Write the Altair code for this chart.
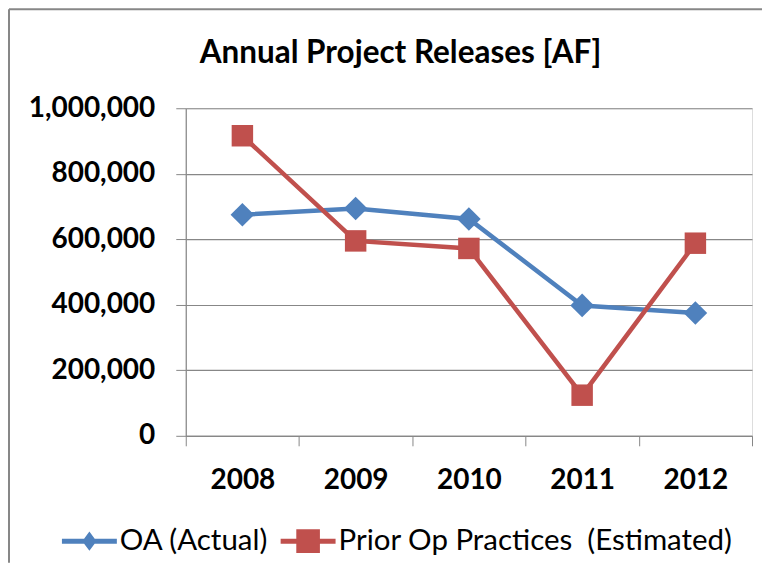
import altair as alt
import pandas as pd

years = ["2008", "2009", "2010", "2011", "2012"]
series_names = ["OA (Actual)", "Prior Op Practices\u00a0 (Estimated)"]
oa_actual = [675000, 694000, 662000, 398000, 375000]
prior_op = [916000, 595000, 572000, 124000, 588000]
y_ticks = [0, 200000, 400000, 600000, 800000, 1000000]
colors = ["#4F81BD", "#C0504D"]

rows = []
for name, vals in zip(series_names, [oa_actual, prior_op]):
    for yr, v in zip(years, vals):
        rows.append({"year": yr, "series": name, "value": v})
df = pd.DataFrame(rows)

W, H = 567, 328
FONT = "Lato"
GRAY = "#878787"

color_scale = alt.Scale(domain=series_names, range=colors)

x_enc = alt.X(
    "year:N",
    sort=years,
    scale=alt.Scale(type="band", paddingInner=0, paddingOuter=0),
    axis=alt.Axis(
        title=None, labelAngle=0, tickBand="extent", grid=False,
        domainColor=GRAY, tickColor=GRAY, tickSize=10, domainWidth=1.2,
        labelFont=FONT, labelFontSize=28, labelFontWeight="bold",
        labelColor="black", labelPadding=21,
    ),
)
y_enc = alt.Y(
    "value:Q",
    scale=alt.Scale(domain=[0, 1000000]),
    axis=alt.Axis(
        title=None, values=y_ticks, format=",.0f", grid=True,
        gridColor=GRAY, gridWidth=1.2, domainColor=GRAY, domainWidth=1.2,
        tickColor=GRAY, tickSize=10, labelFont=FONT, labelFontSize=28,
        labelFontWeight="bold", labelColor="black", labelPadding=21,
    ),
)

# legend symbols: line stub + marker (filled paths, same winding)
diamond_line = "M-1,-0.09H1V0.09H-1ZM0,-0.35L0.26,0L0,0.35L-0.26,0Z"
square_line = "M-1,-0.09H1V0.09H-1ZM-0.43,-0.43H0.43V0.43H-0.43Z"

legend = alt.Legend(
    title=None, orient="none", direction="horizontal",
    legendX=-124, legendY=406,
    labelFont=FONT, labelFontSize=29.5, labelColor="black",
    labelLimit=1000, symbolSize=3025, labelOffset=3, columnPadding=12,
    symbolStrokeWidth=0, symbolOpacity=1,
)

color_enc = alt.Color("series:N", scale=color_scale, legend=legend, sort=series_names)
shape_enc = alt.Shape("series:N", scale=alt.Scale(domain=series_names, range=[diamond_line, square_line]),
                      legend=legend, sort=series_names)

base = alt.Chart(df)
lines = base.mark_line(strokeWidth=4.5).encode(x=x_enc, y=y_enc, color=color_enc)
pts_oa = base.transform_filter(alt.datum.series == series_names[0]).mark_point(
    filled=True, size=560, opacity=1, shape="diamond"
).encode(x=x_enc, y=y_enc, color=color_enc)
pts_prior = base.transform_filter(alt.datum.series == series_names[1]).mark_point(
    filled=True, size=462, opacity=1, shape="square"
).encode(x=x_enc, y=y_enc, color=color_enc)
legend_layer = base.transform_filter("false").mark_point(
    filled=True, size=3025, opacity=1
).encode(x=x_enc, y=y_enc, color=color_enc, shape=shape_enc)

frame_df = pd.DataFrame({"k": [0]})
left_rule = alt.Chart(frame_df).mark_rule(color=GRAY, strokeWidth=2).encode(
    x=alt.value(-177), y=alt.value(-99), y2=alt.value(455)
)
top_rule = alt.Chart(frame_df).mark_rule(color=GRAY, strokeWidth=2).encode(
    x=alt.value(-177), x2=alt.value(577), y=alt.value(-99)
)

chart = alt.layer(left_rule, top_rule, lines, pts_oa, pts_prior, legend_layer).properties(
    width=W, height=H,
    title=alt.Title(
        "Annual Project Releases [AF]", font=FONT, fontSize=31.5,
        fontWeight="bold", color="black", anchor="middle", frame="bounds",
        offset=-61, dx=15,
    ),
).configure_view(stroke=None).configure(padding=0)

chart.save("out.html", embed_options={"renderer": "svg", "actions": False})
